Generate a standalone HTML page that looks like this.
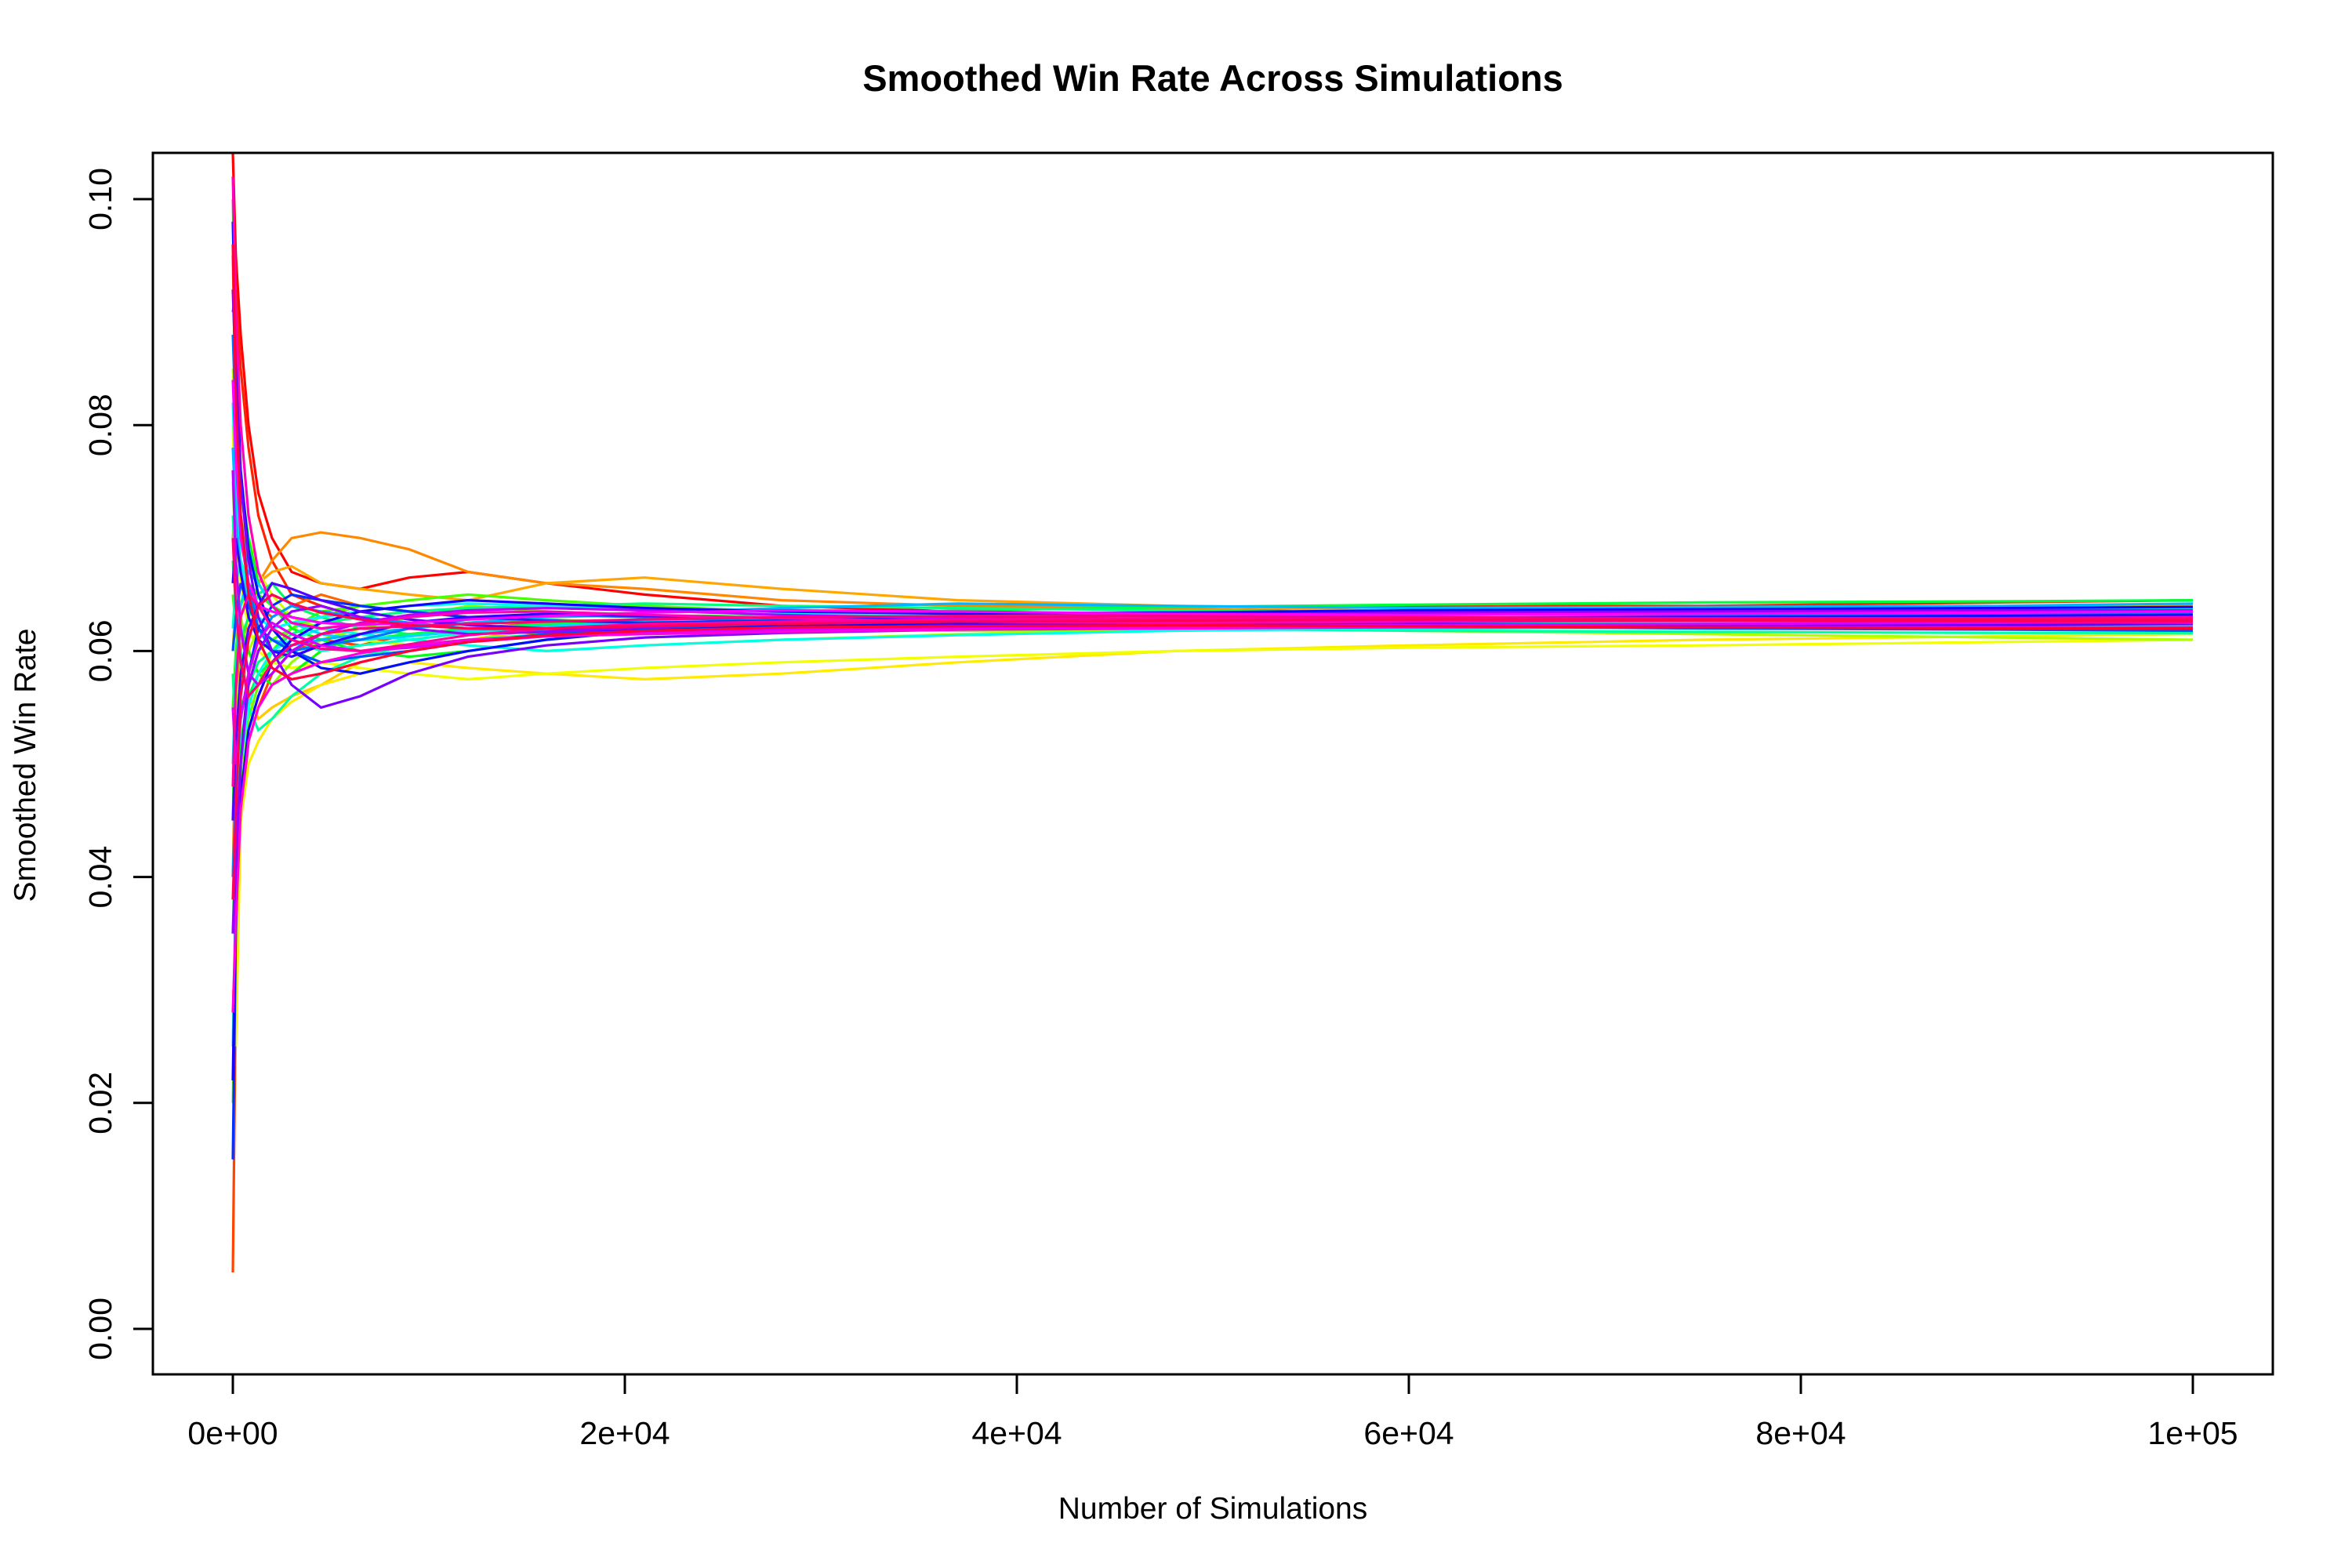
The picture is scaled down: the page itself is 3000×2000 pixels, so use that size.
<!DOCTYPE html>
<html><head><meta charset="utf-8"><style>
html,body{margin:0;padding:0;background:#fff;}
svg{display:block;}
text{font-family:"Liberation Sans",Arial,sans-serif;fill:#000;}
</style></head><body>
<svg id="chart" width="3000" height="2000" viewBox="0 0 3000 2000" xmlns="http://www.w3.org/2000/svg">
<rect width="3000" height="2000" fill="#fff"/>
<text x="1547" y="116" font-size="47" font-weight="bold" text-anchor="middle">Smoothed Win Rate Across Simulations</text>
<text x="1547" y="1937" font-size="39" text-anchor="middle">Number of Simulations</text>
<text x="0" y="0" font-size="39" text-anchor="middle" transform="translate(45,976) rotate(-90)">Smoothed Win Rate</text>
<g id="lines"></g>
<g id="axes"></g>
<rect x="195" y="195" width="2704" height="1558" fill="none" stroke="#000" stroke-width="3"/>
</svg>
<script>
const xTicks = [0, 20000, 40000, 60000, 80000, 100000];
const xTickLabels = ["0e+00", "2e+04", "4e+04", "6e+04", "8e+04", "1e+05"];
const yTicks = [0, 0.02, 0.04, 0.06, 0.08, 0.10];
const yTickLabels = ["0.00", "0.02", "0.04", "0.06", "0.08", "0.10"];
const simCounts = [0,150,400,800,1300,2000,3000,4500,6500,9000,12000,16000,21000,28000,37000,48000,60000,75000,90000,100000];
// win rate values in per-mille (x 0.001)
const s1 = [104,95,88,80,74,70,67,66,65.5,66.5,67,66,65,64,63.5,63,63,62.8,62.6,62.5];
const s2 = [90,92,85,78,72,68,65,64,63,62.5,62,61.5,62,62.5,63,63.5,64,64,64.3,64.5];
const s3 = [5,30,45,52,55,58,60,61,60.5,61.5,62,62.5,62,61.8,62,62.2,62.5,62.3,62.4,62.5];
const s4 = [95,80,70,66,64,63,64,65,64,63.5,63,62.5,62,62.3,62.5,62.8,62.5,62.7,62.8,62.9];
const s5 = [40,55,60,63,66,68,70,70.5,70,69,67,66,65.5,64.5,64,63.8,63.2,62.5,62,62];
const s6 = [70,75,72,68,66,67,67.5,66,65.5,65,64.5,66,66.5,65.5,64.5,64,63.5,63.5,63.8,64];
const s7 = [60,65,60,56,54,55,56,57,59,60,61,62,62.5,63,63.5,63.2,63,62.8,63,63.2];
const s8 = [30,25,45,50,52,54,55.5,57,58,59,58.5,58,57.5,58,59,60,60.5,61,61.3,61.5];
const s9 = [80,70,66,62,60,59,58.5,59,58.5,58,57.5,58,58.5,59,59.5,60,60.3,60.5,60.8,61];
const s10 = [85,78,74,70,67,65,63,62,61,60.5,61,61.5,62,62.5,62.8,63,63,63.2,63,63];
const s11 = [50,55,58,60,62,64,63,62,61.5,61,60.5,60,60.5,61,61.5,62,61.8,61.5,61.2,61];
const s12 = [75,68,63,60,58,57,59,61,62,63,64,63.5,63,62.5,62,62.3,62.5,62.4,62.2,62.3];
const s13 = [20,35,48,54,57,60,62,63,64,63.5,63,62.8,62.5,62,61.8,62,62.2,62.5,62.6,62.7];
const s14 = [65,62,58,57,60,61,62,63.5,64,64.5,65,64.5,64,63.5,63,62.8,62.5,62.5,62.3,62.2];
const s15 = [55,60,64,66,65,64,63,62.5,63,63.5,63,62.5,62.8,63,63.2,63.5,63.3,63.2,63.4,63.5];
const s16 = [45,58,62,60,58,57,58,60,61.5,62,62.5,63,63.2,63,62.8,62.6,62.8,63,62.9,62.8];
const s17 = [100,85,75,70,66,64,62,61,60,59.5,60,61,62,62.5,62.4,62.2,62,62.1,62.2,62.3];
const s18 = [35,45,52,56,58,59,60,60.5,61,61.5,62,62.4,62.8,63.2,63.6,63.9,64.1,64.3,64.4,64.5];
const s19 = [68,64,61,63,65,66,64,63,62,61.5,61.8,62.2,62.6,62.9,63.1,63,62.9,63.1,63,63.1];
const s20 = [58,52,55,57,59,60,61.5,62.5,63,63.5,63.8,64,64.2,64,63.8,63.6,63.4,63.2,63.1,63];
const s21 = [72,66,60,55,53,54,56,58,59.5,60.5,61,61.5,61.8,62,62.2,62,61.8,61.7,61.6,61.6];
const s22 = [62,66,68,66,64,62,61,60,60.5,61,61.6,62,62.3,62.1,62,62.2,62.4,62.6,62.7,62.8];
const s23 = [25,40,50,55,58,60,61,62,61.5,61,60.5,60,60.5,61,61.4,61.8,62,62.1,62.2,62.2];
const s24 = [82,74,68,65,63,62,62.5,63,63.5,64,64.2,64,63.7,63.4,63.2,63.3,63.5,63.6,63.7,63.8];
const s25 = [50,58,64,67,66,64,62.5,61.5,61,61.3,61.8,62.2,62.6,62.8,63,63.1,63,62.9,62.9,63];
const s26 = [78,72,67,64,62,61,60.5,61,61.5,62,62.5,63,63.4,63.8,64.2,64,63.8,63.9,64,64.2];
const s27 = [40,48,54,58,61,63,64,63.5,63,62.5,62,61.8,61.6,61.8,62.1,62.3,62.4,62.3,62.4,62.4];
const s28 = [88,80,72,66,62,60,60,60.5,61,62,62.8,63.2,63,62.6,62.4,62.6,62.9,63.1,63.2,63.3];
const s29 = [60,63,66,64,62,61,60,59,59.5,60,60.8,61.5,62,62.4,62.6,62.5,62.2,62,61.9,61.8];
const s30 = [15,35,50,58,62,64,65,64.5,64,63.5,63,62.7,62.5,62.7,63,63.2,63,62.8,62.7,62.6];
const s31 = [98,86,76,69,65,62,60,58.5,58,59,60,61,61.8,62.2,62.5,62.7,62.9,63,63.1,63.2];
const s32 = [22,38,47,53,56,59,61,62.5,63.5,64,64.5,64.2,63.8,63.5,63.3,63.4,63.6,63.7,63.8,63.9];
const s33 = [66,70,67,63,61,60,59.5,60.5,61.5,62.5,63,63.3,63.1,62.9,62.7,62.8,62.9,63,63,63.1];
const s34 = [45,52,58,62,64,66,65.5,64.5,63.5,62.8,62.3,62,61.8,62,62.3,62.5,62.4,62.3,62.3,62.4];
const s35 = [92,84,75,68,63,60,57,55,56,58,59.5,60.5,61.2,61.6,61.9,62.1,62.2,62.1,62,62];
const s36 = [35,42,50,57,60,62,63.5,64,63,62,61.5,61.7,62.1,62.5,62.9,63.2,63.4,63.5,63.6,63.6];
const s37 = [76,68,62,58,57,58,60,61.5,62.5,63.2,63.6,63.8,63.6,63.2,62.9,62.7,62.6,62.7,62.8,62.8];
const s38 = [55,50,54,58,61,62.5,61.5,60.5,60,60.3,60.8,61.3,61.6,61.9,62.1,62.2,62.3,62.4,62.5,62.6];
const s39 = [84,77,70,66,64,63.5,63,62.5,62.3,62.5,62.8,63.1,63.4,63.6,63.5,63.3,63.2,63.3,63.4,63.5];
const s40 = [28,36,46,52,55,57,58,59,59.8,60.5,61,61.3,61.5,61.7,61.9,62,62.1,62.1,62.1,62.1];
const s41 = [102,90,80,72,67,64,62.5,62,62.4,63,63.4,63.5,63.2,62.9,62.6,62.5,62.6,62.8,62.9,63];
const s42 = [48,57,63,65,64,62,61,60.2,60,60.6,61.4,62,62.4,62.6,62.8,62.9,62.8,62.7,62.6,62.5];
const s43 = [70,64,59,56,57,59,60.5,61.5,62,62.2,62.4,62.6,62.8,63,63.1,63.1,63,62.9,62.9,62.9];
const s44 = [38,46,56,61,64,65,64.2,63.4,62.8,62.3,62,62,62.2,62.4,62.6,62.7,62.8,62.7,62.7,62.7];
const s45 = [96,82,72,65,61,58.5,57.5,58,59,60,60.8,61.4,61.8,62.1,62.2,62.3,62.2,62.1,62,62];
const seriesList = [s1,s2,s3,s4,s5,s6,s7,s8,s9,s10,s11,s12,s13,s14,s15,s16,s17,s18,s19,s20,s21,s22,s23,s24,s25,s26,s27,s28,s29,s30,s31,s32,s33,s34,s35,s36,s37,s38,s39,s40,s41,s42,s43,s44,s45];

const X0 = 297, X1 = 2797, Y0 = 1695, Y1 = 254;
function xScale(v){ return X0 + (v - 0) / 100000 * (X1 - X0); }
function yScale(v){ return Y0 + (v - 0) / 0.10 * (Y1 - Y0); }
const NS = "http://www.w3.org/2000/svg";
const lines = document.getElementById('lines');
const n = seriesList.length;
seriesList.forEach(function(vals, i){
  const p = document.createElementNS(NS, 'polyline');
  const pts = vals.map(function(v, j){ return xScale(simCounts[j]).toFixed(1) + ',' + yScale(v / 1000).toFixed(1); }).join(' ');
  p.setAttribute('points', pts);
  p.setAttribute('fill', 'none');
  p.setAttribute('stroke', 'hsl(' + Math.round(i / n * 355) + ',100%,50%)');
  p.setAttribute('stroke-width', '3.2');
  
  
  lines.appendChild(p);
});
const axes = document.getElementById('axes');
xTicks.forEach(function(t, i){
  const x = xScale(t);
  const l = document.createElementNS(NS, 'line');
  l.setAttribute('x1', x); l.setAttribute('x2', x);
  l.setAttribute('y1', 1753); l.setAttribute('y2', 1778);
  l.setAttribute('stroke', '#000'); l.setAttribute('stroke-width', '3');
  
  
  axes.appendChild(l);
  const tx = document.createElementNS(NS, 'text');
  tx.setAttribute('x', x); tx.setAttribute('y', 1842);
  tx.setAttribute('font-size', '41'); tx.setAttribute('text-anchor', 'middle');
  tx.textContent = xTickLabels[i];
  
  
  axes.appendChild(tx);
});
yTicks.forEach(function(t, i){
  const y = yScale(t);
  const l = document.createElementNS(NS, 'line');
  l.setAttribute('x1', 170); l.setAttribute('x2', 195);
  l.setAttribute('y1', y); l.setAttribute('y2', y);
  l.setAttribute('stroke', '#000'); l.setAttribute('stroke-width', '3');
  
  
  axes.appendChild(l);
  const tx = document.createElementNS(NS, 'text');
  tx.setAttribute('x', 0); tx.setAttribute('y', 0);
  tx.setAttribute('font-size', '41'); tx.setAttribute('text-anchor', 'middle');
  tx.setAttribute('transform', 'translate(142,' + y + ') rotate(-90)');
  tx.textContent = yTickLabels[i];
  
  
  axes.appendChild(tx);
});
</script>
</body></html>
